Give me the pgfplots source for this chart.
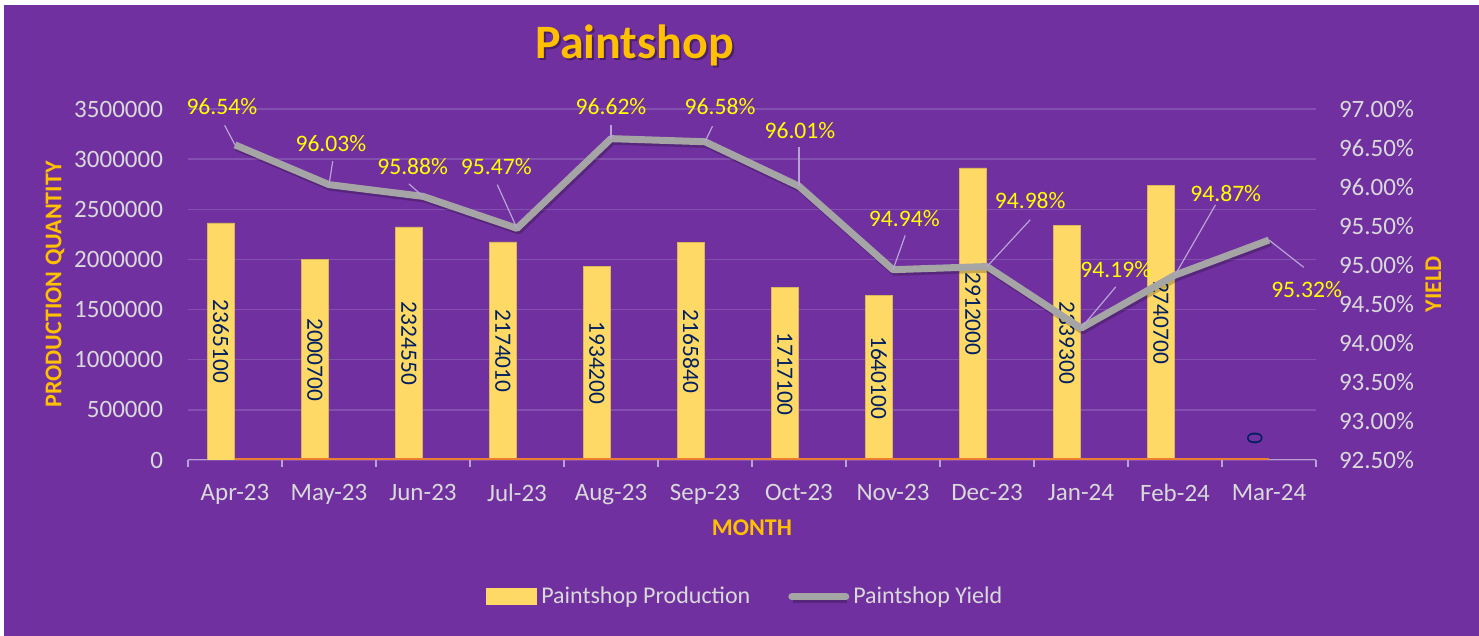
\documentclass[border=0pt]{standalone}
\usepackage{fontspec}
\setmainfont{Carlito}
\usepackage{pgfplots}
\usepackage{pgfplotstable}
\pgfplotsset{compat=1.18}

\definecolor{bg}{HTML}{7030A0}
\definecolor{barc}{HTML}{FFD966}
\definecolor{linec}{HTML}{A5A5A5}
\definecolor{tickc}{HTML}{D9D9D9}
\definecolor{gridc}{HTML}{8450B0}
\definecolor{axc}{HTML}{B9A3D6}
\definecolor{titc}{HTML}{FFC000}
\definecolor{lblc}{HTML}{FFFF00}
\definecolor{navy}{HTML}{002060}
\definecolor{zeroc}{HTML}{ED7D31}

\pgfplotstableread{
x month prod yield
0 Apr-23 2365100 96.54
1 May-23 2000700 96.03
2 Jun-23 2324550 95.88
3 Jul-23 2174010 95.47
4 Aug-23 1934200 96.62
5 Sep-23 2165840 96.58
6 Oct-23 1717100 96.01
7 Nov-23 1640100 94.94
8 Dec-23 2912000 94.98
9 Jan-24 2339300 94.19
10 Feb-24 2740700 94.87
11 Mar-24 0 95.32
}\data

\pgfplotsset{
  base/.style={
    scale only axis, width=564pt, height=175.5pt,
    xmin=-0.5, xmax=11.5,
    at={(0,0)}, anchor=south west,
    /pgf/number format/assume math mode=true,
    tick label style={font=\fontsize{12.5}{14}\selectfont, text=tickc},
  },
}

\begin{document}
\begin{tikzpicture}
\fill[white] (-94pt,-88pt) rectangle (645.5pt,230pt);
\fill[bg] (-92pt,-88pt) rectangle (645.5pt,227.5pt);

% production (left axis)
\begin{axis}[base,
  ymin=0, ymax=3500000,
  ytick={0,500000,1000000,1500000,2000000,2500000,3000000,3500000},
  scaled y ticks=false,
  yticklabel style={/pgf/number format/fixed, /pgf/number format/1000 sep={}, xshift=-5.5pt},
  axis x line*=bottom, axis y line*=left,
  x axis line style={draw=none},
  y axis line style={draw=none},
  ytick style={draw=none},
  xtick={-0.5,0.5,...,11.5},
  x tick label as interval,
  xticklabels={Apr-23,May-23,Jun-23,Jul-23,Aug-23,Sep-23,Oct-23,Nov-23,Dec-23,Jan-24,Feb-24,Mar-24},
  xticklabel style={yshift=-5pt},
  xtick style={axc, line width=0.75pt},
  tick align=outside, major tick length=3.5pt,
  ymajorgrids, grid style={gridc, line width=0.75pt},
  ylabel={PRODUCTION QUANTITY},
  ylabel style={at={(axis description cs:-0.118,0.5)}, anchor=center,
    font=\bfseries\fontsize{12}{14}\selectfont, text=titc},
  xlabel={MONTH},
  xlabel style={at={(axis description cs:0.5,-0.194)}, anchor=center,
    font=\bfseries\fontsize{12}{14}\selectfont, text=titc},
]
% category axis line, drawn first so the series lie on it
\draw[axc, line width=0.75pt] (-0.5,0) -- (11.5,0);
\addplot[ybar, bar width=13.5pt, bar shift=-7pt, fill=barc,
  draw=barc!85!black, line width=0.3pt] table[x=x, y=prod] {\data};
\addplot[zeroc, line width=1.6pt, forget plot] coordinates {
  (0,0) (1,0) (2,0) (3,0) (4,0) (5,0) (6,0) (7,0) (8,0) (9,0) (10,0) (11,0)};
% value labels, centred in the bars
\addplot[draw=none, mark=none, point meta=explicit symbolic, nodes near coords,
  every node near coord/.append style={font=\fontsize{11.7}{13}\selectfont,
    text=navy, anchor=center, xshift=-7pt, rotate=-90}]
  table[x=x, y expr={max(\thisrow{prod}/2,219000)}, meta=prod] {\data};
\end{axis}

% yield (right axis)
\begin{axis}[base,
  clip=false,
  ymin=92.5, ymax=97,
  ytick={92.5,93,...,97},
  axis y line*=right, axis x line=none,
  y axis line style={draw=none},
  ytick style={draw=none},
  yticklabel={\pgfmathprintnumber[fixed,fixed zerofill,precision=2]{\tick}\%},
  yticklabel style={xshift=8pt},
  ylabel={YIELD},
  ylabel style={at={(axis description cs:1.104,0.5)}, anchor=center, rotate=0,
    font=\bfseries\fontsize{12}{14}\selectfont, text=titc},
  legend style={at={(0.495,-0.39)}, anchor=center, draw=none, fill=none,
    legend columns=2, font=\fontsize{12}{14}\selectfont, text=tickc,
    /tikz/every even column/.append style={column sep=17pt}},
]
\addlegendimage{legend image code/.code={\fill[barc] (0pt,-4pt) rectangle (25pt,4pt);}}
\addlegendentry{Paintshop Production}
\addplot[linec, line width=3.5pt, line join=round,
  preaction={draw=black, opacity=0.22, line width=3.5pt,
    transform canvas={xshift=0.8pt, yshift=-1.3pt}},
  legend image code/.code={\draw[linec, line width=3.5pt, line cap=round] (0pt,0pt) -- (27pt,0pt);}]
  table[x=x, y=yield] {\data};
\addlegendentry{Paintshop Yield}

% leader lines
\begin{scope}[axc, line width=0.6pt]
\draw (-0.11,96.79) -- (0,96.54);
\draw (1.04,96.33) -- (1,96.03);
\draw (1.85,96.04) -- (2,95.88);
\draw (2.79,96.03) -- (3,95.47);
\draw (4,96.79) -- (4,96.62);
\draw (5.08,96.78) -- (5,96.58);
\draw (6.0,96.51) -- (6,96.01);
\draw (7.13,95.38) -- (7,94.94);
\draw (8.46,95.58) -- (8,94.98);
\draw (9.37,94.72) -- (9,94.19);
\draw (10.43,95.77) -- (10,94.87);
\draw (11.37,94.97) -- (11,95.32);
\end{scope}

% data labels
\begin{scope}[every node/.style={font=\fontsize{11.8}{13}\selectfont, text=lblc, inner sep=0pt}]
\node at (-0.14,97.03) {96.54\%};
\node at (1.02,96.56) {96.03\%};
\node at (1.89,96.26) {95.88\%};
\node at (2.78,96.26) {95.47\%};
\node at (4.0,97.03) {96.62\%};
\node at (5.16,97.03) {96.58\%};
\node at (6.01,96.72) {96.01\%};
\node at (7.12,95.60) {94.94\%};
\node at (8.46,95.82) {94.98\%};
\node at (9.37,94.94) {94.19\%};
\node at (10.54,95.92) {94.87\%};
\node at (11.40,94.69) {95.32\%};
\end{scope}

% title
\node[font=\bfseries\fontsize{24}{28}\selectfont, text=black, opacity=0.35]
  at ([xshift=1pt,yshift=-1.2pt]rel axis cs:0.396,1.182) {Paintshop};
\node[font=\bfseries\fontsize{24}{28}\selectfont, text=titc]
  at (rel axis cs:0.396,1.182) {Paintshop};
\end{axis}

\pgfresetboundingbox
\useasboundingbox (-94pt,-88pt) rectangle (645.5pt,230pt);
\end{tikzpicture}
\end{document}
